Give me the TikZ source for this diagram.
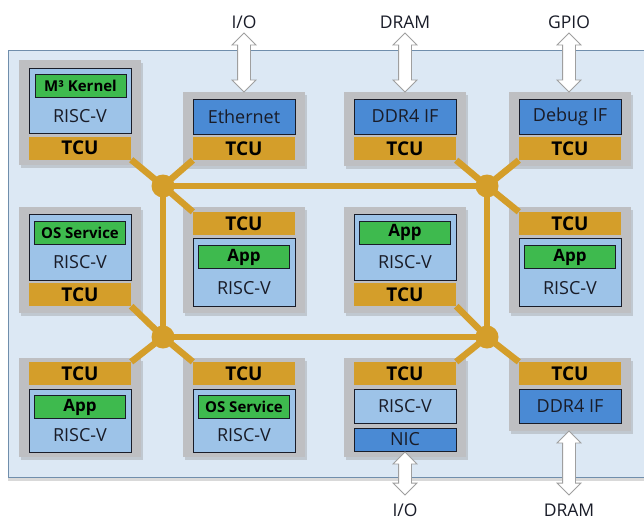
\documentclass[tikz,border=0pt]{standalone}
\usepackage{fontspec}
\setmainfont{Open Sans}
\usetikzlibrary{shapes.arrows,shadows}

\definecolor{panelbg}{RGB}{220,232,244}
\definecolor{panelline}{RGB}{112,142,172}
\definecolor{tilegray}{RGB}{190,191,194}
\definecolor{coreblue}{RGB}{157,195,232}
\definecolor{devblue}{RGB}{74,138,212}
\definecolor{swgreen}{RGB}{62,186,78}
\definecolor{tcugold}{RGB}{212,158,42}
\definecolor{edge}{RGB}{25,28,40}

\tikzset{
    panel/.style={fill=panelbg, draw=panelline, line width=0.8pt,
        drop shadow={shadow xshift=0pt, shadow yshift=-4pt, opacity=0.3}},
    tile/.style={fill=tilegray, minimum width=122pt, inner sep=0pt,
        drop shadow={shadow xshift=2pt, shadow yshift=-3pt, opacity=0.3}},
    corebox/.style={fill=coreblue, draw=edge, line width=0.9pt, minimum width=102pt,
        inner sep=0pt, text=edge, font=\fontsize{18}{18}\selectfont},
    corelow/.style={corebox, text height=#1, text depth=11pt},
    devbox/.style={corebox, fill=devblue},
    swbox/.style={fill=swgreen, draw=edge, line width=0.9pt, minimum width=91pt,
        minimum height=23pt, inner sep=0pt, font=\bfseries\fontsize{15}{15}\selectfont},
    appfont/.style={font=\bfseries\fontsize{17}{17}\selectfont},
    tcubar/.style={fill=tcugold, minimum width=102pt, minimum height=23pt, inner sep=0pt,
        font=\bfseries\fontsize{19}{19}\selectfont},
    router/.style={circle, fill=tcugold, minimum size=23pt, inner sep=0pt},
    link/.style={draw=tcugold, line width=6.5pt},
    bidir/.style={double arrow, draw=gray!75, fill=white, line width=0.8pt, rotate=90,
        inner sep=0pt, text height=12pt, text depth=0pt, minimum width=23pt,
        double arrow head extend=5.5pt},
    extlbl/.style={text=edge, font=\fontsize{17.5}{17.5}\selectfont}
}

\begin{document}
\begin{tikzpicture}[x=1pt,y=-1pt]
    \useasboundingbox (0,0) rectangle (644,519);

    % Chip area
    \draw[panel] (8,50) rectangle (660,477);

    % Row 1: kernel tile and interface tiles
    \node[tile, minimum height=105pt] (p11) at (80,112.5) {};
    \node[corelow=54pt] (k11) at (80,100.5) {RISC-V};
    \node[swbox] (s11) at (80.5,86) {M³ Kernel};
    \node[tcubar] (t11) at (80,148) {TCU};
    \foreach \c/\x/\t in {2/244/Ethernet, 3/405/DDR4 IF, 4/570/Debug IF}
    {
        \node[tile, minimum height=74pt] (p1\c) at (\x,129) {};
        \node[devbox, minimum height=35pt] (d1\c) at (\x,116.5) {\t};
        \node[tcubar] (t1\c) at (\x,148.5) {TCU};
    }

    % Row 2: TCU below the core
    \node[tile, minimum height=106pt] (p21) at (80,260) {};
    \node[corelow=54pt, text depth=12pt] (k21) at (80,247) {RISC-V};
    \node[swbox] (s21) at (80,232.5) {OS Service};
    \node[tcubar] (t21) at (80,294.5) {TCU};
    \node[tile, minimum height=106pt] (p23) at (405,260) {};
    \node[corelow=54pt, text depth=12pt] (k23) at (405,247) {RISC-V};
    \node[swbox, appfont] (s23) at (405,232.5) {App};
    \node[tcubar] (t23) at (405,294.5) {TCU};

    % Row 2: TCU above the core
    \foreach \c/\x in {2/244, 4/570}
    {
        \node[tile, minimum height=106pt] (p2\c) at (\x,260) {};
        \node[tcubar] (t2\c) at (\x,223.5) {TCU};
        \node[corelow=56pt, text depth=12pt] (k2\c) at (\x,272) {RISC-V};
        \node[swbox, appfont] (s2\c) at (\x,257) {App};
    }

    % Row 3
    \node[tile, minimum height=99pt] (p31) at (80,407.5) {};
    \node[tcubar] (t31) at (80,373.5) {TCU};
    \node[corelow=52pt] (k31) at (80,420.5) {RISC-V};
    \node[swbox, appfont] (s31) at (80,407) {App};
    \node[tile, minimum height=99pt] (p32) at (244,407.5) {};
    \node[tcubar] (t32) at (244,373.5) {TCU};
    \node[corelow=52pt] (k32) at (244,420.5) {RISC-V};
    \node[swbox] (s32) at (244,407) {OS Service};
    \node[tile, minimum height=99pt] (p33) at (405,407.5) {};
    \node[tcubar] (t33) at (405,373.5) {TCU};
    \node[corebox, minimum height=34pt] (k33) at (405,406) {RISC-V};
    \node[devbox, minimum height=23pt] (d33) at (405,439.5) {NIC};
    \node[tile, minimum height=73pt] (p34) at (570,394.5) {};
    \node[tcubar] (t34) at (570,373.5) {TCU};
    \node[devbox, minimum height=34pt] (d34) at (570,406) {DDR4 IF};

    % Network: routers and links
    \node[router] (rtl) at (163,186) {};
    \node[router] (rtr) at (487,186) {};
    \node[router] (rbl) at (163,337) {};
    \node[router] (rbr) at (487,337) {};
    \draw[link] (rtl.center) -- (rtr.center) -- (rbr.center) -- (rbl.center) -- cycle;
    \draw[link] (t11.south east) -- (rtl.center);
    \draw[link] (t12.south west) -- (rtl.center);
    \draw[link] (t22.north west) -- (rtl.center);
    \draw[link] (t13.south east) -- (rtr.center);
    \draw[link] (t14.south west) -- (rtr.center);
    \draw[link] (t24.north west) -- (rtr.center);
    \draw[link] (t21.south east) -- (rbl.center);
    \draw[link] (t31.north east) -- (rbl.center);
    \draw[link] (t32.north west) -- (rbl.center);
    \draw[link] (t23.south east) -- (rbr.center);
    \draw[link] (t33.north east) -- (rbr.center);
    \draw[link] (t34.north west) -- (rbr.center);

    % Off-chip interfaces
    \node[extlbl] (xio) at (244,22) {I/O};
    \node[bidir, minimum height=59pt] (aio) at (244,62.5) {};
    \node[extlbl] (xdram) at (405,22) {DRAM};
    \node[bidir, minimum height=59pt] (adram) at (405,62.5) {};
    \node[extlbl] (xgpio) at (569,22) {GPIO};
    \node[bidir, minimum height=59pt] (agpio) at (569,62.5) {};
    \node[extlbl] (xnet) at (405,510) {I/O};
    \node[bidir, minimum height=43pt] (anet) at (405,473.5) {};
    \node[extlbl] (xmem) at (569,510) {DRAM};
    \node[bidir, minimum height=64pt] (amem) at (569,463) {};
\end{tikzpicture}
\end{document}
